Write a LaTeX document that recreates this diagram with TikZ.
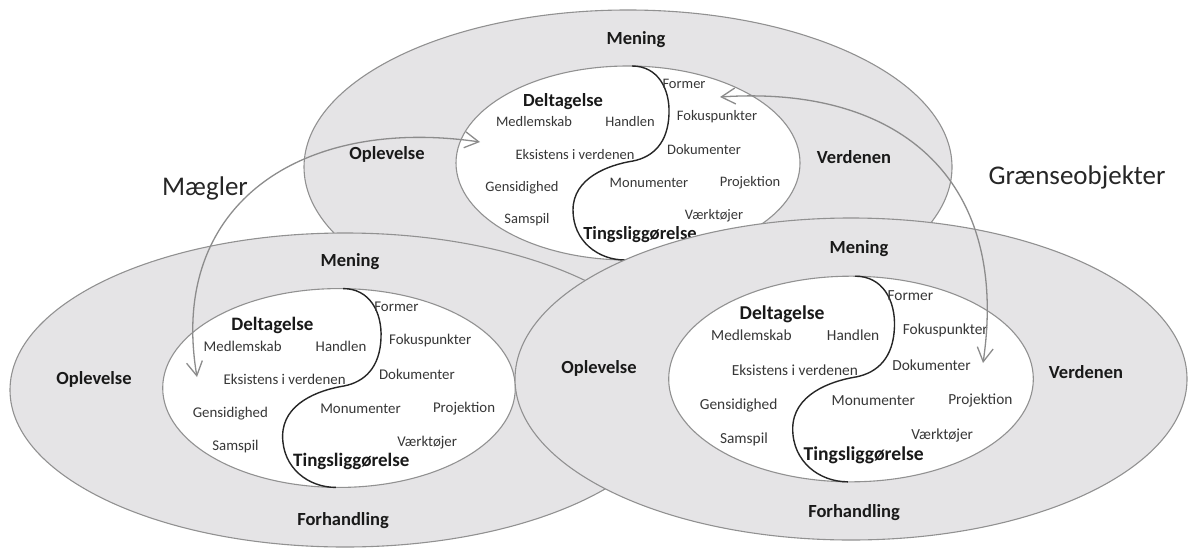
\documentclass[tikz,border=0pt]{standalone}
\usepackage{fontspec}
\setmainfont{Carlito}
\usetikzlibrary{shapes.geometric,arrows.meta}
\definecolor{edgegray}{RGB}{145,145,145}
\definecolor{fillgray}{RGB}{229,228,230}
\definecolor{arrowgray}{RGB}{140,140,140}
\definecolor{smalltext}{RGB}{55,55,55}
\definecolor{boldtext}{RGB}{25,25,25}
\tikzset{
  outer ell/.style={ellipse, draw=edgegray, fill=fillgray, line width=1.1pt, inner sep=0pt},
  inner ell/.style={ellipse, draw=edgegray, fill=white, line width=1.1pt, inner sep=0pt,
                    minimum width=344pt, minimum height=194pt},
  scurve/.style={draw=black!85, line width=1.4pt},
  biglabel/.style={font=\fontsize{18.5}{20}\selectfont\bfseries, text=boldtext, inner sep=0pt},
  smalllabel/.style={font=\fontsize{14.5}{16}\selectfont, text=smalltext, inner sep=0pt},
  hugelabel/.style={font=\fontsize{27}{30}\selectfont, text=black!85, inner sep=0pt},
  linkarrow/.style={draw=arrowgray, line width=1.3pt, {Straight Barb[length=14pt,width=16pt]}-{Straight Barb[length=14pt,width=16pt]}},
}
\newcommand\innerpart[4]{%
  \begin{scope}[shift={(#2,#3)}, scale=#4, transform shape]
    \node[inner ell] (#1-inner) at (0,0) {};
    \draw[scurve] (4,-97) .. controls (30,-97) and (42,-74) .. (41,-49)
      .. controls (40,-20) and (25,-6) .. (5,-2)
      .. controls (-20,2) and (-55,15) .. (-55,47)
      .. controls (-55,78) and (-30,97) .. (-3,97);
    \node[biglabel]   (#1-delt) at (-65,-61) {Deltagelse};
    \node[smalllabel] (#1-medl) at (-94,-41) {Medlemskab};
    \node[smalllabel] (#1-hand) at (2,-41) {Handlen};
    \node[smalllabel] (#1-eksi) at (-53,-8) {Eksistens i verdenen};
    \node[smalllabel] (#1-gens) at (-106,25) {Gensidighed};
    \node[smalllabel] (#1-sams) at (-101,57) {Samspil};
    \node[smalllabel] (#1-form) at (56,-79) {Former};
    \node[smalllabel] (#1-foku) at (89,-46) {Fokuspunkter};
    \node[smalllabel] (#1-doku) at (76,-13) {Dokumenter};
    \node[smalllabel] (#1-monu) at (21,20) {Monumenter};
    \node[smalllabel] (#1-proj) at (122,20) {Projektion};
    \node[smalllabel] (#1-vaer) at (86,53) {Værktøjer};
    \node[biglabel]   (#1-ting) at (12,72) {Tingsliggørelse};
  \end{scope}}
\begin{document}
\begin{tikzpicture}[x=1pt,y=-1pt]
\useasboundingbox (0,0) rectangle (1190,551);
% top group
\node[outer ell, minimum width=648pt, minimum height=314pt] (top-outer) at (628,167) {};
\node[biglabel] (top-mening) at (636,40) {Mening};
\node[biglabel] (top-oplev) at (387,154) {Oplevelse};
\node[biglabel] (top-verden) at (854,157) {Verdenen};
\innerpart{top}{628}{163}{1}
% bottom-left group
\node[outer ell, minimum width=670pt, minimum height=314pt] (bl-outer) at (345,390) {};
\node[biglabel] (bl-mening) at (350,262) {Mening};
\node[biglabel] (bl-oplev) at (94,379) {Oplevelse};
\node[biglabel] (bl-forh) at (343,521) {Forhandling};
\innerpart{bl}{339}{388}{1.025}
% bottom-right group
\node[outer ell, minimum width=672pt, minimum height=322pt] (br-outer) at (851,379) {};
\node[biglabel] (br-mening) at (859,249) {Mening};
\node[biglabel] (br-oplev) at (599,368) {Oplevelse};
\node[biglabel] (br-verden) at (1086,372) {Verdenen};
\node[biglabel] (br-forh) at (854,513) {Forhandling};
\innerpart{br}{851}{379}{1.06}
% arrows
\coordinate (mg-top) at (480,142);
\coordinate (mg-bot) at (197,377);
\draw[linkarrow] (mg-top) .. controls (300,116) and (168,205) .. (mg-bot);
\coordinate (gr-top) at (720,97);
\coordinate (gr-bot) at (983,363);
\draw[linkarrow] (gr-top) .. controls (900,85) and (1010,180) .. (gr-bot);
\node[hugelabel] (maegler) at (205,188) {Mægler};
\node[hugelabel] (graense) at (1077,177) {Grænseobjekter};
\end{tikzpicture}
\end{document}
